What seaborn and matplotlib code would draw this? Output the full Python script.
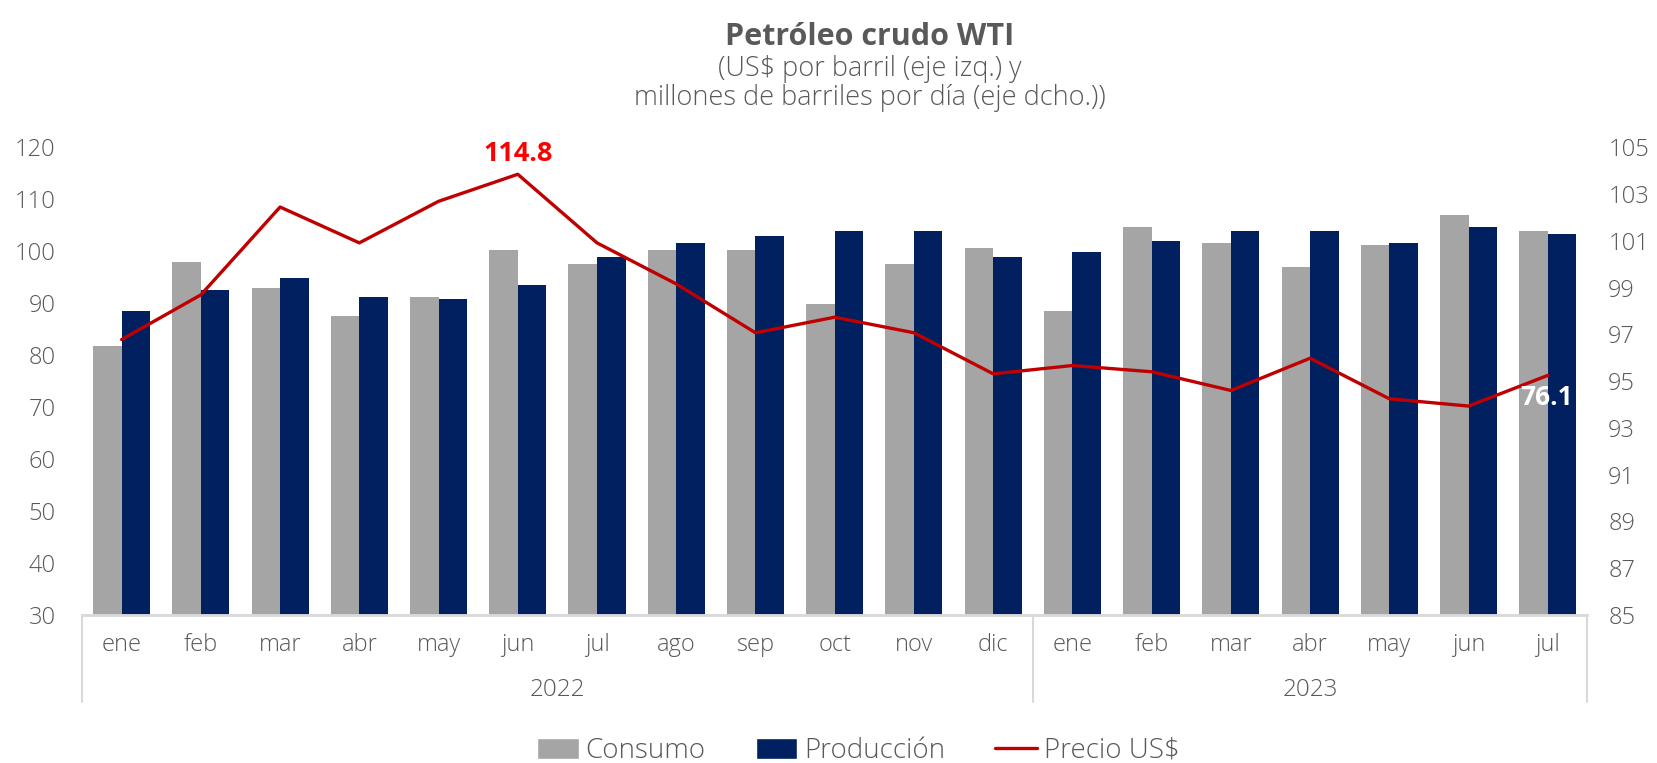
import numpy as np
import pandas as pd
import matplotlib
matplotlib.use("Agg")
import matplotlib.pyplot as plt
from matplotlib.patches import Patch
from matplotlib.lines import Line2D
import seaborn as sns

# --- Data ---
meses = ['ene', 'feb', 'mar', 'abr', 'may', 'jun', 'jul', 'ago', 'sep', 'oct', 'nov', 'dic',
         'ene', 'feb', 'mar', 'abr', 'may', 'jun', 'jul']
anios = ['2022', '2023']
meses_por_anio = [12, 7]

# millones de barriles por dia (eje dcho.)
consumo = [96.5, 100.1, 99.0, 97.8, 98.6, 100.6, 100.0, 100.6, 100.6, 98.3, 100.0, 100.7,
           98.0, 101.6, 100.9, 99.9, 100.8, 102.1, 101.4]
produccion = [98.0, 98.9, 99.4, 98.6, 98.5, 99.1, 100.3, 100.9, 101.2, 101.4, 101.4, 100.3,
              100.5, 101.0, 101.4, 101.4, 100.9, 101.6, 101.3]
# US$ por barril (eje izq.)
precio = [83.0, 91.6, 108.5, 101.6, 109.6, 114.8, 101.6, 93.7, 84.3, 87.3, 84.3, 76.4,
          78.0, 76.8, 73.2, 79.4, 71.6, 70.2, 76.1]

GRIS = '#A5A5A5'
AZUL = '#002060'
ROJO = '#C00000'
TEXTO = '#595959'
EJE = '#D9D9D9'

sns.set_style('white')
plt.rcParams['font.family'] = ['Open Sans', 'DejaVu Sans']
plt.rcParams['font.weight'] = 'light'

pos = np.arange(len(meses))
df = pd.DataFrame({
    'pos': np.concatenate([pos, pos]),
    'valor': consumo + produccion,
    'serie': ['Consumo'] * len(pos) + ['Producción'] * len(pos),
})

fig = plt.figure(figsize=(16.57, 7.63), dpi=100)
ax = fig.add_axes([0.0495, 0.194, 0.9085, 0.613])

# bars on the right-hand scale
sns.barplot(data=df, x='pos', y='valor', hue='serie', palette={'Consumo': GRIS, 'Producción': AZUL},
            width=0.72, saturation=1, legend=False, linewidth=0, ax=ax)
ax.set_xlim(-0.5, len(meses) - 0.5)
ax.set_ylim(85, 105)
ax.set_yticks(np.arange(85, 106, 2))
ax.set_xlabel('')
ax.set_ylabel('')

# line on the left-hand scale
ax2 = ax.twinx()
sns.lineplot(x=pos, y=precio, color=ROJO, linewidth=2.4, ax=ax2)
ax2.set_ylim(30, 120)
ax2.set_yticks(np.arange(30, 121, 10))
ax2.yaxis.tick_left()
ax2.tick_params(axis='y', length=0, pad=19, labelsize=17, labelcolor=TEXTO)

# twinx moves the original ticks to the left, put them back on the right
ax.yaxis.tick_right()
ax.tick_params(axis='y', length=0, pad=15, labelsize=17, labelcolor=TEXTO)

for a in (ax, ax2):
    for s in ('top', 'left', 'right'):
        a.spines[s].set_visible(False)
    a.spines['bottom'].set_color(EJE)
    a.spines['bottom'].set_linewidth(1.8)

# two-level category axis
ax.set_xticks(pos)
ax.set_xticklabels(meses)
ax.tick_params(axis='x', length=0, pad=13, labelsize=17, labelcolor=TEXTO)
ax2.tick_params(axis='x', length=0)

trans = ax.get_xaxis_transform()
cortes = np.concatenate([[0], np.cumsum(meses_por_anio)]) - 0.5
for c in cortes:
    ax.plot([c, c], [0, -0.186], transform=trans, color=EJE, linewidth=1.5, clip_on=False)
for i, anio in enumerate(anios):
    centro = (cortes[i] + cortes[i + 1]) / 2
    ax.text(centro, -0.16, anio, transform=trans, ha='center', va='center',
            fontsize=17.5, color=TEXTO)

# data labels
i_max = int(np.argmax(precio))
ax2.annotate(f'{precio[i_max]:.1f}', (i_max, precio[i_max]), xytext=(0, 5),
             textcoords='offset points', ha='center', va='bottom',
             color='#FF0000', fontsize=19.5, fontweight='bold')
ax2.annotate(f'{precio[-1]:.1f}', (len(precio) - 1, precio[-1]), xytext=(-1, -6),
             textcoords='offset points', ha='center', va='top',
             color='white', fontsize=19, fontweight='bold')

# titles
fig.text(0.525, 0.952, 'Petróleo crudo WTI', ha='center', va='center',
         fontsize=22, fontweight='bold', color=TEXTO)
fig.text(0.525, 0.909, '(US$ por barril (eje izq.) y', ha='center', va='center',
         fontsize=19.5, color=TEXTO)
fig.text(0.525, 0.871, 'millones de barriles por día (eje dcho.))', ha='center', va='center',
         fontsize=19.5, color=TEXTO)

# legend
handles = [Patch(facecolor=GRIS, label='Consumo'),
           Patch(facecolor=AZUL, label='Producción'),
           Line2D([0], [0], color=ROJO, linewidth=2.4, label='Precio US$')]
fig.legend(handles=handles, loc='center', bbox_to_anchor=(0.518, 0.016), ncol=3,
           frameon=False, fontsize=20, labelcolor=TEXTO, handlelength=1.5,
           handleheight=0.8, handletextpad=0.25, columnspacing=1.8)

fig.savefig('out.png', dpi=100)
